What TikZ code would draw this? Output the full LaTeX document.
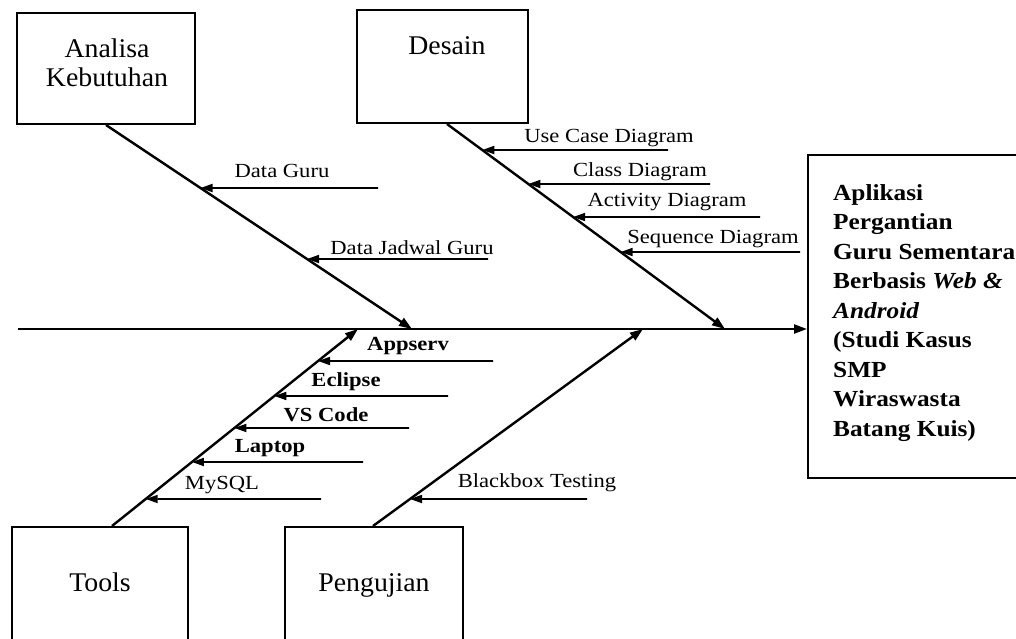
\documentclass[tikz,border=0pt]{standalone}
\usepackage{fontspec}
\setmainfont{Liberation Serif}
\newfontfamily\lblfont[FakeStretch=1.13]{Liberation Serif}
\newfontfamily\boxfont[FakeStretch=1.03]{Liberation Serif}
\newfontfamily\resfont[FakeStretch=1.1]{Liberation Serif}
\usetikzlibrary{arrows.meta,calc}
\tikzset{
  catbox/.style={draw, line width=2pt, rectangle, inner sep=0pt},
  boxlbl/.style={font=\boxfont\fontsize{27}{29}\selectfont, align=center, inner sep=0pt, anchor=base},
  lbl/.style={font=\lblfont\fontsize{20}{22}\selectfont, inner sep=0pt, anchor=base},
  blbl/.style={font=\lblfont\bfseries\fontsize{20}{22}\selectfont, inner sep=0pt, anchor=base},
  bone/.style={line width=2.4pt, -{Triangle[length=13pt,width=9pt]}},
  feed/.style={line width=1.8pt, -{Triangle[length=12pt,width=8pt]}},
}
\begin{document}
\begin{tikzpicture}[x=1pt,y=-1pt]
\useasboundingbox (0,0) rectangle (1016,639);
% category boxes
\node[catbox, minimum width=178pt, minimum height=111pt] (ana) at (106,68.5) {};
\node[boxlbl] (anat) at (107,87) {Analisa\\Kebutuhan};
\node[catbox, minimum width=171pt, minimum height=113pt] (des) at (442.5,66.5) {};
\node[boxlbl] (dest) at (447,55) {Desain};
\node[catbox, minimum width=176pt, minimum height=120pt] (tools) at (100,587) {};
\node[boxlbl] (toolst) at (100,591) {Tools};
\node[catbox, minimum width=178pt, minimum height=120pt] (peng) at (374,587) {};
\node[boxlbl] (pengt) at (374,591) {Pengujian};
% result box
\node[catbox, minimum width=222pt, minimum height=323pt] (res) at (919,316.5) {};
\node[font=\resfont\bfseries\fontsize{23}{29.5}\selectfont, align=left, inner sep=0pt, anchor=base west] (rest) at (833,436)
 {Aplikasi\\Pergantian\\Guru Sementara\\Berbasis \textit{Web \&}\\\textit{Android}\\(Studi Kasus\\SMP\\Wiraswasta\\Batang Kuis)};
% spine
\coordinate (sp) at (18,329);
\draw[bone] (sp) -- (sp -| res.west);
% bones
\coordinate (anaS) at (ana.south);
\coordinate (anaE) at (412,329);
\coordinate (desS) at ($(des.south)+(4.5,0)$);
\coordinate (desE) at (725,329);
\coordinate (tlS) at ($(tools.north)+(12,0)$);
\coordinate (tlE) at (358,329);
\coordinate (pgS) at ($(peng.north)+(-1,0)$);
\coordinate (pgE) at (643,329);
\draw[bone] (anaS) -- (anaE);
\draw[bone] (desS) -- (desE);
\draw[bone] (tlS) -- (tlE);
\draw[bone] (pgS) -- (pgE);
% Analisa feeds
\coordinate (a1) at (378,188);
\coordinate (a1h) at (0,188);
\coordinate (a1p) at (intersection cs: first line={(anaS)--(anaE)}, second line={(a1)--(a1h)});
\draw[feed] (a1) -- (a1p);
\node[lbl] (a1l) at (282,178) {Data Guru};
\coordinate (a2) at (488,259);
\coordinate (a2h) at (0,259);
\coordinate (a2p) at (intersection cs: first line={(anaS)--(anaE)}, second line={(a2)--(a2h)});
\draw[feed] (a2) -- (a2p);
\node[lbl] (a2l) at (412,254) {Data Jadwal Guru};
% Desain feeds
\coordinate (d1) at (668,150);
\coordinate (d1h) at (0,150);
\coordinate (d1p) at (intersection cs: first line={(desS)--(desE)}, second line={(d1)--(d1h)});
\draw[feed] (d1) -- (d1p);
\node[lbl] (d1l) at (609,143) {Use Case Diagram};
\coordinate (d2) at (710,184);
\coordinate (d2h) at (0,184);
\coordinate (d2p) at (intersection cs: first line={(desS)--(desE)}, second line={(d2)--(d2h)});
\draw[feed] (d2) -- (d2p);
\node[lbl] (d2l) at (640,176) {Class Diagram};
\coordinate (d3) at (760,217);
\coordinate (d3h) at (0,217);
\coordinate (d3p) at (intersection cs: first line={(desS)--(desE)}, second line={(d3)--(d3h)});
\draw[feed] (d3) -- (d3p);
\node[lbl] (d3l) at (667,206) {Activity Diagram};
\coordinate (d4) at (800,252);
\coordinate (d4h) at (0,252);
\coordinate (d4p) at (intersection cs: first line={(desS)--(desE)}, second line={(d4)--(d4h)});
\draw[feed] (d4) -- (d4p);
\node[lbl] (d4l) at (713,243) {Sequence Diagram};
% Tools feeds
\coordinate (t1) at (493,361);
\coordinate (t1h) at (0,361);
\coordinate (t1p) at (intersection cs: first line={(tlS)--(tlE)}, second line={(t1)--(t1h)});
\draw[feed] (t1) -- (t1p);
\node[blbl] (t1l) at (408,350) {Appserv};
\coordinate (t2) at (448,396);
\coordinate (t2h) at (0,396);
\coordinate (t2p) at (intersection cs: first line={(tlS)--(tlE)}, second line={(t2)--(t2h)});
\draw[feed] (t2) -- (t2p);
\node[blbl] (t2l) at (346,386) {Eclipse};
\coordinate (t3) at (409,428);
\coordinate (t3h) at (0,428);
\coordinate (t3p) at (intersection cs: first line={(tlS)--(tlE)}, second line={(t3)--(t3h)});
\draw[feed] (t3) -- (t3p);
\node[blbl] (t3l) at (326,421) {VS Code};
\coordinate (t4) at (363,462);
\coordinate (t4h) at (0,462);
\coordinate (t4p) at (intersection cs: first line={(tlS)--(tlE)}, second line={(t4)--(t4h)});
\draw[feed] (t4) -- (t4p);
\node[blbl] (t4l) at (270,452) {Laptop};
\coordinate (t5) at (321,499);
\coordinate (t5h) at (0,499);
\coordinate (t5p) at (intersection cs: first line={(tlS)--(tlE)}, second line={(t5)--(t5h)});
\draw[feed] (t5) -- (t5p);
\node[lbl] (t5l) at (222,489) {MySQL};
% Pengujian feed
\coordinate (p1) at (587,499);
\coordinate (p1h) at (0,499);
\coordinate (p1p) at (intersection cs: first line={(pgS)--(pgE)}, second line={(p1)--(p1h)});
\draw[feed] (p1) -- (p1p);
\node[lbl] (p1l) at (537,487) {Blackbox Testing};
\end{tikzpicture}
\end{document}
